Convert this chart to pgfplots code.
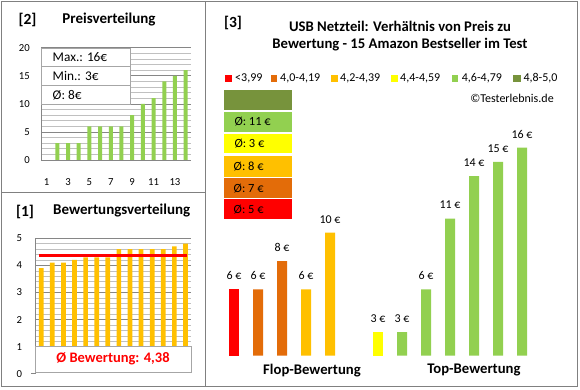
\documentclass[border=0pt]{standalone}
\usepackage{pgfplots}
\pgfplotsset{compat=1.18}
\usepackage{fontspec}
\setmainfont{Carlito}
\definecolor{cRed}{HTML}{FF0000}
\definecolor{cDOr}{HTML}{E36C09}
\definecolor{cAmb}{HTML}{FFC000}
\definecolor{cYel}{HTML}{FFFF00}
\definecolor{cGrn}{HTML}{92D050}
\definecolor{cOli}{HTML}{77933C}
\definecolor{frameGray}{HTML}{808080}
\definecolor{majGray}{HTML}{868686}
\definecolor{minGray}{HTML}{C0C0C0}
\definecolor{boxGray}{HTML}{A6A6A6}
\newcommand{\fs}[1]{\fontsize{#1}{#1}\selectfont}
\begin{document}
\begin{tikzpicture}[x=1pt,y=1pt]
\path[use as bounding box] (0,0) rectangle (580,390);

% ---------- Panel [2] Preisverteilung ----------
\begin{axis}[at={(41.3pt,230pt)}, anchor=south west, scale only axis,
  width=149.7pt, height=112.3pt,
  xmin=0.5, xmax=14.5, ymin=0, ymax=20,
  axis x line*=bottom, axis y line*=left,
  axis line style={majGray, line width=0.8pt, -},
  xtick={1,3,...,13}, ytick={0,5,...,20}, minor y tick num=4,
  ymajorgrids, yminorgrids,
  major grid style={majGray, line width=0.6pt},
  minor grid style={minGray, line width=0.6pt},
  major tick length=0pt, minor tick length=0pt,
  tick label style={font=\fs{10.7}},
  /pgf/number format/assume math mode=true,
  xticklabel style={yshift=-15pt}, yticklabel style={xshift=-8pt}]
\addplot[ybar, bar width=4pt, bar shift=0pt, fill=cGrn, draw=none]
  coordinates {(2,3)(3,3)(4,3)(5,6)(6,6)(7,6)(8,6)(9,8)(10,10)(11,11)(12,14)(13,15)(14,16)};
\end{axis}
\draw[boxGray, fill=white, line width=0.7pt] (41.7,286) rectangle (130.7,341.7);
\draw[boxGray, line width=0.7pt] (41.7,323.3) -- (130.7,323.3);
\draw[boxGray, line width=0.7pt] (41.7,304.3) -- (130.7,304.3);
\node[anchor=west, inner sep=0pt, font=\fs{13.3}] at (52.5,332.5) {Max.: 16€};
\node[anchor=west, inner sep=0pt, font=\fs{13.3}] at (52.5,313.8) {Min.: 3€};
\node[anchor=west, inner sep=0pt, font=\fs{13.3}] at (52.5,295.2) {Ø: 8€};
\node[font=\bfseries\fs{15.5}] at (27.5,370) {[2]};
\node[font=\bfseries\fs{15}] at (109,370) {Preisverteilung};

% ---------- Panel [1] Bewertungsverteilung ----------
\begin{axis}[at={(35.7pt,16.2pt)}, anchor=south west, scale only axis,
  width=155.3pt, height=135.5pt,
  xmin=0.5, xmax=14.5, ymin=0, ymax=5,
  axis x line*=bottom, axis y line*=left,
  axis line style={majGray, line width=0.8pt, -},
  xtick=\empty, ytick={0,1,...,5}, minor y tick num=4,
  ymajorgrids, yminorgrids,
  major grid style={majGray, line width=0.6pt},
  minor grid style={minGray, line width=0.6pt},
  major tick length=0pt, minor tick length=0pt,
  tick label style={font=\fs{10.7}},
  /pgf/number format/assume math mode=true,
  yticklabel style={xshift=-10pt}]
\addplot[ybar, bar width=4.7pt, bar shift=0pt, fill=cAmb, draw=none]
  coordinates {(1,3.9)(2,4.1)(3,4.1)(4,4.2)(5,4.3)(6,4.3)(7,4.3)(8,4.6)(9,4.6)(10,4.6)(11,4.6)(12,4.6)(13,4.7)(14,4.8)};
\addplot[sharp plot, cRed, line width=2.8pt] coordinates {(0.8,4.38)(14.1,4.38)};
\end{axis}
\draw[white, fill=white] (35.3,15) rectangle (192,44);
\draw[boxGray, fill=white, line width=0.7pt] (35.7,17.5) rectangle (191,44);
\draw[majGray, line width=0.8pt] (31,16.2) -- (35.7,16.2);
\node[font=\bfseries\fs{14.5}, text=cRed] at (113,31.5) {Ø Bewertung: 4,38};
\node[font=\bfseries\fs{15.5}] at (25,178.3) {[1]};
\node[font=\bfseries\fs{15}] at (121.7,179) {Bewertungsverteilung};

% ---------- Panel [3] ----------
\begin{axis}[at={(210pt,34.3pt)}, anchor=south west, scale only axis,
  width=336pt, height=236.4pt,
  xmin=0, xmax=14, ymin=1.33, ymax=18,
  axis line style={draw=none},
  ytick=\empty, xtick={4.25,11}, xticklabels={Flop-Bewertung,Top-Bewertung},
  major tick length=0pt,
  /pgf/number format/assume math mode=true,
  xticklabel style={font=\bfseries\fs{14.7}, yshift=-5pt},
  nodes near coords={\pgfmathprintnumber{\pgfplotspointmeta}\ €},
  every node near coord/.append style={font=\fs{12}, yshift=6pt, text=black}]
\addplot[ybar, bar width=10pt, bar shift=0pt, fill=cRed, draw=none] coordinates {(1,6)};
\addplot[ybar, bar width=10pt, bar shift=0pt, fill=cDOr, draw=none] coordinates {(2,6)(3,8)};
\addplot[ybar, bar width=10pt, bar shift=0pt, fill=cAmb, draw=none] coordinates {(4,6)(5,10)};
\addplot[ybar, bar width=10pt, bar shift=0pt, fill=cYel, draw=none] coordinates {(7,3)};
\addplot[ybar, bar width=10pt, bar shift=0pt, fill=cGrn, draw=none] coordinates {(8,3)(9,6)(10,11)(11,14)(12,15)(13,16)};
\end{axis}

% colour boxes
\fill[cOli] (224,280) rectangle (291.7,300);
\fill[cGrn] (224,258.3) rectangle (291.7,278.3);
\fill[cYel] (224,236.7) rectangle (291.7,256.3);
\fill[cAmb] (224,213.3) rectangle (291.7,234);
\fill[cDOr] (224,191.7) rectangle (291.7,211.7);
\fill[cRed] (224,171) rectangle (291.7,190.7);
\node[anchor=west, inner sep=0pt, font=\fs{12.5}] at (234.3,268.3) {Ø: 11 €};
\node[anchor=west, inner sep=0pt, font=\fs{12.5}] at (234.3,246.5) {Ø: 3 €};
\node[anchor=west, inner sep=0pt, font=\fs{12.5}] at (233.5,223.6) {Ø: 8 €};
\node[anchor=west, inner sep=0pt, font=\fs{12.5}] at (233.5,201.7) {Ø: 7 €};
\node[anchor=west, inner sep=0pt, font=\fs{12.5}] at (233.5,180.8) {Ø: 5 €};

% legend row
\fill[cRed] (225,308.2) rectangle (232.3,315.2);
\node[anchor=west, inner sep=0pt, font=\fs{12}] at (235,311.7) {<3,99};
\fill[cDOr] (270.7,308.2) rectangle (277.3,315.2);
\node[anchor=west, inner sep=0pt, font=\fs{12}] at (280,311.7) {4,0-4,19};
\fill[cAmb] (331,308.2) rectangle (337.7,315.2);
\node[anchor=west, inner sep=0pt, font=\fs{12}] at (340,311.7) {4,2-4,39};
\fill[cYel] (391,308.2) rectangle (398.3,315.2);
\node[anchor=west, inner sep=0pt, font=\fs{12}] at (400,311.7) {4,4-4,59};
\fill[cGrn] (451.7,308.2) rectangle (458.3,315.2);
\node[anchor=west, inner sep=0pt, font=\fs{12}] at (461.7,311.7) {4,6-4,79};
\fill[cOli] (513.3,308.2) rectangle (520.7,315.2);
\node[anchor=west, inner sep=0pt, font=\fs{12}] at (523.3,311.7) {4,8-5,0};
\node[font=\fs{12}] at (512,291.7) {©Testerlebnis.de};

\node[font=\bfseries\fs{15.5}] at (233,367.5) {[3]};
\node[font=\bfseries\fs{14.7}] at (400,363.3) {USB Netzteil: Verhältnis von Preis zu};
\node[font=\bfseries\fs{14.7}] at (400,345) {Bewertung - 15 Amazon Bestseller im Test};

% frames
\draw[frameGray, line width=1.5pt] (1.7,3.3) rectangle (577.7,388.5);
\draw[frameGray, line width=1.5pt] (205.3,3.3) -- (205.3,388.5);
\draw[frameGray, line width=1.5pt] (1.7,197.7) -- (205.3,197.7);
\end{tikzpicture}
\end{document}
